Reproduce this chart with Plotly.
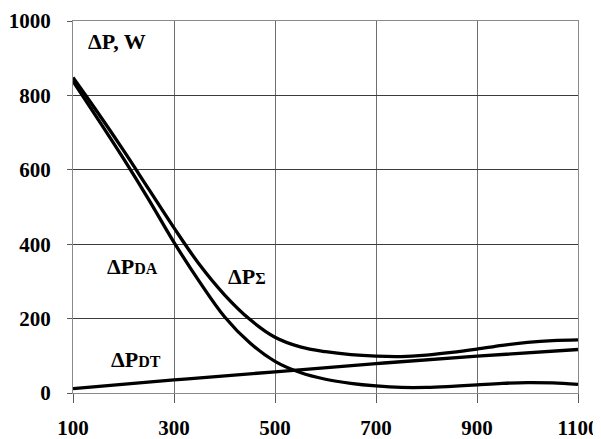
import plotly.graph_objects as go

freq = [100, 150, 200, 250, 300, 350, 400, 450, 500, 550, 600, 650, 700, 750, 800, 850, 900, 950, 1000, 1050, 1100]
p_sum = [848, 752, 652, 548, 444, 346, 264, 198, 150, 124, 111, 103, 99, 98, 102, 109, 118, 128, 136, 141, 143]
p_da = [838, 735, 630, 520, 405, 300, 205, 135, 85, 55, 37, 26, 19, 15, 15, 18, 22, 26, 28, 27, 23]
f_dt = [100, 300, 500, 700, 900, 1100]
p_dt = [12, 35, 57, 79, 99, 117]

x_ticks = [100, 300, 500, 700, 900, 1100]
y_ticks = [0, 200, 400, 600, 800, 1000]

FONT = "Liberation Serif"

fig = go.Figure()
for xs, ys in [(freq, p_sum), (freq, p_da), (f_dt, p_dt)]:
    fig.add_trace(go.Scatter(x=xs, y=ys, mode="lines",
                             line=dict(color="black", width=3.3, shape="spline", smoothing=1.0),
                             showlegend=False, hoverinfo="skip"))

labels = [
    (187, 944, "<b>ΔP, W</b>"),
    (217, 339, "<b>ΔP<span style='font-size:16px'>DA</span></b>"),
    (445, 312, "<b>ΔP<span style='font-size:16px'>Σ</span></b>"),
    (225, 89, "<b>ΔP<span style='font-size:16px'>DT</span></b>"),
    (993, -64, "<b>f, Hz</b>"),
]
for x, y, t in labels:
    fig.add_annotation(x=x, y=y, xref="x", yref="y", text=t, showarrow=False,
                       font=dict(family=FONT, size=22, color="black"),
                       xanchor="center", yanchor="middle")

def axis_style(grid):
    return dict(showgrid=True, gridcolor=grid, gridwidth=1,
                showline=True, linecolor="#8a8a8a", linewidth=1, mirror=True,
                ticks="outside", tickcolor="#5a5a5a",
                tickfont=dict(family=FONT, size=21, color="black"),
                zeroline=False, automargin=False)

fig.update_xaxes(range=[100, 1100], tickvals=x_ticks, ticktext=[f"<b>{v}</b>" for v in x_ticks],
                 ticklen=9, ticklabelstandoff=7, **axis_style("#6e6e6e"))
fig.update_yaxes(range=[0, 1000], tickvals=y_ticks, ticktext=[f"<b>{v}</b>" for v in y_ticks],
                 ticklen=5, ticklabelstandoff=12, **axis_style("#3c3c3c"))

# the page body has an 8px margin, so the figure is sized to fit inside it
fig.update_layout(width=593, height=431, margin=dict(l=65, r=23, t=13, b=46),
                  plot_bgcolor="white", paper_bgcolor="white")

fig.write_html("out.html")
